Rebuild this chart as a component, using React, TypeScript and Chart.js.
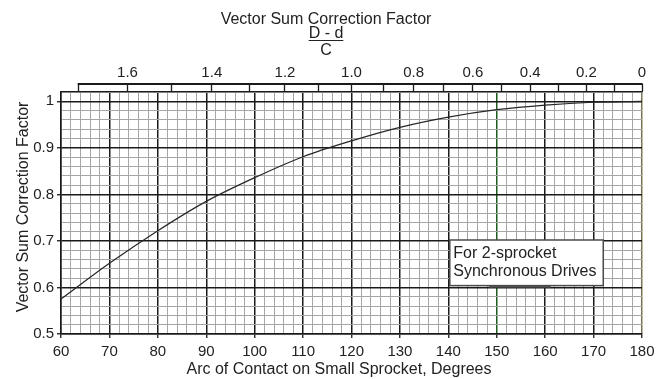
import React, { useEffect, useRef } from 'react';
import { Chart, registerables } from 'chart.js';

Chart.register(...registerables);

// ---------- data ----------
const arcDegrees = [60, 70, 80, 90, 100, 110, 120, 130, 140, 150, 160, 170, 180];
const correctionFactor = [0.575, 0.652, 0.722, 0.785, 0.836, 0.881, 0.915, 0.944, 0.966, 0.982, 0.992, 0.998, 1.0];

const xMajorTicks = [60, 70, 80, 90, 100, 110, 120, 130, 140, 150, 160, 170, 180];
const yMajorTicks = [0.5, 0.6, 0.7, 0.8, 0.9, 1.0];
const yMajorLabels = ['0.5', '0.6', '0.7', '0.8', '0.9', '1'];

const topFactorTicks = [1.7, 1.6, 1.5, 1.4, 1.3, 1.2, 1.1, 1.0, 0.9, 0.8, 0.7, 0.6, 0.5, 0.4, 0.3, 0.2, 0.1, 0];
const topFactorLabels = ['', '1.6', '', '1.4', '', '1.2', '', '1.0', '', '0.8', '', '0.6', '', '0.4', '', '0.2', '', '0'];

const chartTitle = 'Vector Sum Correction Factor';
const fractionTop = 'D - d';
const fractionBottom = 'C';
const xAxisTitle = 'Arc of Contact on Small Sprocket, Degrees';
const yAxisTitle = 'Vector Sum Correction Factor';
const noteLines = ['For 2-sprocket', 'Synchronous Drives'];

// ---------- layout / style constants ----------
const X_MIN = 60;
const X_MAX = 180;
const Y_MIN = 0.5;
const Y_MAX = 1.02;
const X_MINOR_STEP = 2;
const Y_MINOR_STEP = 0.02;
const NOTE_BOX = { xMin: 140.3, xMax: 172, yMin: 0.604, yMax: 0.702 };
const FONT = '"Liberation Sans", Arial, Helvetica, sans-serif';
const TEXT_COLOR = '#222';
const MAJOR_COLOR = '#1a1a1a';
const MINOR_COLOR = '#a6a6a6';

const xGridValues: number[] = [];
for (let i = 0; i <= Math.round((X_MAX - X_MIN) / X_MINOR_STEP); i++) xGridValues.push(X_MIN + i * X_MINOR_STEP);
const yGridValues: number[] = [];
for (let i = 0; i <= Math.round((Y_MAX - Y_MIN) / Y_MINOR_STEP); i++) yGridValues.push(Math.round((Y_MIN + i * Y_MINOR_STEP) * 1000) / 1000);

const factorToArc = (f: number) => 180 - (2 * Math.asin(f / 2) * 180) / Math.PI;
const near = (a: number, b: number) => Math.abs(a - b) < 1e-6;
const isMajorX = (v: number) => xMajorTicks.some((m) => near(m, v));
const yMajorIndex = (v: number) => yMajorTicks.findIndex((m) => near(m, v));

const headerPlugin = {
  id: 'headerText',
  afterDraw(chart: any) {
    const { ctx } = chart;
    const cx = 326;
    ctx.save();
    ctx.fillStyle = TEXT_COLOR;
    ctx.strokeStyle = TEXT_COLOR;
    ctx.font = `16px ${FONT}`;
    ctx.textAlign = 'center';
    ctx.textBaseline = 'alphabetic';
    ctx.fillText(chartTitle, cx, 23.5);
    ctx.fillText(fractionTop, cx, 37.5);
    const w = ctx.measureText(fractionTop).width;
    ctx.lineWidth = 1;
    ctx.beginPath();
    ctx.moveTo(cx - w / 2, 40.5);
    ctx.lineTo(cx + w / 2, 40.5);
    ctx.stroke();
    ctx.fillText(fractionBottom, cx, 55);
    // x axis title
    ctx.fillText(xAxisTitle, 339, 373.5);
    // y axis title
    ctx.translate(28.3, 207);
    ctx.rotate(-Math.PI / 2);
    ctx.fillText(yAxisTitle, 0, 0);
    ctx.restore();
  },
};

const topAxisLinePlugin = {
  id: 'topAxisLine',
  afterDraw(chart: any) {
    const s = chart.scales.x2;
    if (!s || !s.ticks.length) return;
    const { ctx } = chart;
    const tl = s.options.grid.tickLength;
    const y = s.bottom - tl;
    const x1 = s.getPixelForValue(s.ticks[0].value);
    const x2 = s.getPixelForValue(s.ticks[s.ticks.length - 1].value);
    ctx.save();
    ctx.strokeStyle = MAJOR_COLOR;
    ctx.lineWidth = 2;
    ctx.beginPath();
    ctx.moveTo(x1 - 0.6, y);
    ctx.lineTo(x2 + 0.6, y);
    ctx.stroke();
    ctx.restore();
  },
};

const notePlugin = {
  id: 'noteBox',
  afterDatasetsDraw(chart: any) {
    const { ctx } = chart;
    const xs = chart.scales.x;
    const ys = chart.scales.y;
    const left = xs.getPixelForValue(NOTE_BOX.xMin);
    const right = xs.getPixelForValue(NOTE_BOX.xMax);
    const top = ys.getPixelForValue(NOTE_BOX.yMax);
    const bottom = ys.getPixelForValue(NOTE_BOX.yMin);
    ctx.save();
    ctx.fillStyle = '#555';
    ctx.fillRect(left + 39, bottom, 62, 2);
    ctx.fillStyle = '#fff';
    ctx.fillRect(left, top, right - left, bottom - top);
    ctx.strokeStyle = '#4a4a4a';
    ctx.lineWidth = 1.5;
    ctx.strokeRect(left, top, right - left, bottom - top);
    ctx.fillStyle = TEXT_COLOR;
    ctx.font = `16px ${FONT}`;
    ctx.textAlign = 'left';
    ctx.textBaseline = 'alphabetic';
    ctx.fillText(noteLines[0], left + 3.5, top + 17.7);
    ctx.fillText(noteLines[1], left + 3.5, top + 35.7);
    ctx.restore();
  },
};

export default function App() {
  const ref = useRef<HTMLCanvasElement>(null);

  useEffect(() => {
    const canvas = ref.current;
    if (!canvas) return;

    const xGridColor = (c: any) => {
      const v = c.tick ? c.tick.value : undefined;
      if (v === undefined) return MINOR_COLOR;
      if (near(v, 150)) return '#1f5a1f';
      if (near(v, 180)) return '#7a7452';
      return isMajorX(v) ? MAJOR_COLOR : MINOR_COLOR;
    };
    const xGridWidth = (c: any) => (c.tick && isMajorX(c.tick.value) ? 1.5 : 1);
    const xTickColor = (c: any) => (c.tick && isMajorX(c.tick.value) ? MAJOR_COLOR : 'rgba(0,0,0,0)');
    const yGridColor = (c: any) => (c.tick && yMajorIndex(c.tick.value) >= 0 ? MAJOR_COLOR : MINOR_COLOR);
    const yGridWidth = (c: any) => (c.tick && yMajorIndex(c.tick.value) >= 0 ? 1.5 : 1);
    const yTickColor = (c: any) => (c.tick && yMajorIndex(c.tick.value) >= 0 ? MAJOR_COLOR : 'rgba(0,0,0,0)');

    const chart = new Chart(canvas, {
      type: 'line',
      data: {
        datasets: [
          {
            data: arcDegrees.map((x, i) => ({ x, y: correctionFactor[i] })),
            borderColor: '#262626',
            borderWidth: 1.2,
            pointRadius: 0,
            fill: false,
            cubicInterpolationMode: 'monotone',
          },
        ],
      },
      options: {
        responsive: false,
        animation: false,
        devicePixelRatio: 1,
        layout: { padding: { left: 0, right: 28, top: 0, bottom: 0 } },
        plugins: {
          legend: { display: false },
          tooltip: { enabled: false },
          title: { display: false },
        },
        scales: {
          x: {
            type: 'linear',
            position: 'bottom',
            min: X_MIN,
            max: X_MAX,
            afterBuildTicks: (s: any) => {
              s.ticks = xGridValues.map((v) => ({ value: v }));
            },
            afterFit: (s: any) => {
              s.height = 45;
            },
            ticks: {
              autoSkip: false,
              maxRotation: 0,
              padding: 5,
              color: TEXT_COLOR,
              font: { family: FONT, size: 15 },
              callback: (v: any) => (isMajorX(v) ? String(v) : ''),
            },
            grid: {
              color: xGridColor,
              lineWidth: xGridWidth,
              tickLength: 4,
              tickColor: xTickColor,
              tickWidth: 1.3,
            },
            border: { display: true, color: MAJOR_COLOR, width: 1.5 },
          },
          x2: {
            type: 'linear',
            position: 'top',
            min: X_MIN,
            max: X_MAX,
            afterBuildTicks: (s: any) => {
              s.ticks = topFactorTicks.map((f) => ({ value: factorToArc(f) }));
            },
            afterFit: (s: any) => {
              s.height = 92;
            },
            ticks: {
              autoSkip: false,
              maxRotation: 0,
              padding: 2,
              color: TEXT_COLOR,
              font: { family: FONT, size: 15 },
              callback: (_v: any, i: number) => topFactorLabels[i] ?? '',
            },
            grid: {
              drawOnChartArea: false,
              tickLength: 8,
              tickColor: MAJOR_COLOR,
              tickWidth: 1.3,
            },
            border: { display: true, color: MAJOR_COLOR, width: 1.3 },
          },
          y: {
            type: 'linear',
            position: 'left',
            min: Y_MIN,
            max: Y_MAX,
            afterBuildTicks: (s: any) => {
              s.ticks = yGridValues.map((v) => ({ value: v }));
            },
            afterFit: (s: any) => {
              s.width = 61;
            },
            ticks: {
              autoSkip: false,
              padding: 3,
              color: TEXT_COLOR,
              font: { family: FONT, size: 15 },
              callback: (v: any) => {
                const i = yMajorIndex(v);
                return i >= 0 ? yMajorLabels[i] : '';
              },
            },
            grid: {
              color: yGridColor,
              lineWidth: yGridWidth,
              tickLength: 4,
              tickColor: yTickColor,
              tickWidth: 1.3,
            },
            border: { display: true, color: MAJOR_COLOR, width: 1.5 },
          },
        },
      } as any,
      plugins: [headerPlugin, topAxisLinePlugin, notePlugin],
    });

    return () => chart.destroy();
  }, []);

  return (
    <div style={{ position: 'absolute', left: 0, top: 0, width: 670, height: 379, background: '#fff' }}>
      <canvas ref={ref} width={670} height={379} style={{ display: 'block' }} />
    </div>
  );
}
